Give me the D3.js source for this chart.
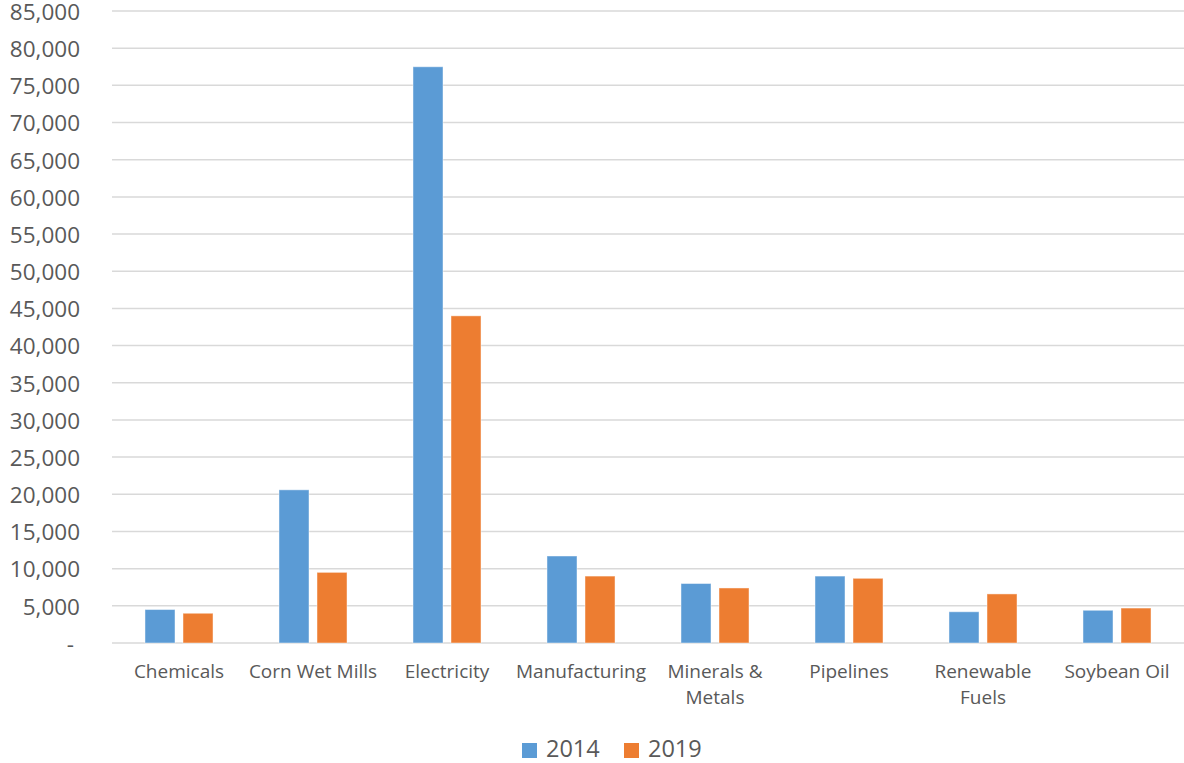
<!DOCTYPE html>
<html>
<head>
<meta charset="utf-8">
<script src="https://cdn.jsdelivr.net/npm/d3@7"></script>
<style>
  html, body { margin: 0; padding: 0; background: #fff; }
  svg { display: block; }
  text { font-family: "Open Sans", "Noto Sans", sans-serif; fill: #595959; }
</style>
</head>
<body>
<svg id="chart" width="1184" height="763"></svg>
<script>
const categories = ["Chemicals", "Corn Wet Mills", "Electricity", "Manufacturing", "Minerals & Metals", "Pipelines", "Renewable Fuels", "Soybean Oil"];
const categoryLines = [["Chemicals"], ["Corn Wet Mills"], ["Electricity"], ["Manufacturing"], ["Minerals &", "Metals"], ["Pipelines"], ["Renewable", "Fuels"], ["Soybean Oil"]];
const seriesNames = ["2014", "2019"];
const values2014 = [4500, 20600, 77500, 11700, 8000, 9000, 4200, 4400];
const values2019 = [4000, 9500, 44000, 9000, 7400, 8700, 6600, 4700];
const colors = ["#5B9BD5", "#ED7D31"];
const yTicks = [0, 5000, 10000, 15000, 20000, 25000, 30000, 35000, 40000, 45000, 50000, 55000, 60000, 65000, 70000, 75000, 80000, 85000];

(function () {
const svg = d3.select("#chart");
const plotLeft = 112, plotRight = 1184, plotTop = 11, plotBottom = 643;

const x = d3.scaleBand().domain(categories).range([plotLeft, plotRight]).padding(0);
const xInner = d3.scaleBand().domain(seriesNames).range([0, x.bandwidth()])
  .paddingInner(8 / 38).paddingOuter(0.868);
const y = d3.scaleLinear().domain([0, 85000]).range([plotBottom, plotTop]);

// gridlines
svg.append("g").selectAll("line").data(yTicks).join("line")
  .attr("x1", plotLeft).attr("x2", plotRight)
  .attr("y1", d => y(d)).attr("y2", d => y(d))
  .attr("stroke", "#d9d9d9").attr("stroke-width", 1.5);

// y axis labels
const fmt = d3.format(",");
const yAxis = d3.axisLeft(y).tickValues(yTicks).tickSize(0).tickPadding(0)
  .tickFormat(d => d === 0 ? "-" : fmt(d));
const yg = svg.append("g").attr("transform", "translate(80,0)").call(yAxis);
yg.select(".domain").remove();
yg.selectAll("text").attr("font-size", 22.5).attr("font-family", "'Open Sans', sans-serif").attr("fill", "#595959")
  .attr("dy", "0.37em");
yg.selectAll(".tick").filter(d => d === 0).select("text").attr("x", -6);

// bars
const data = categories.map((c, i) => ({ c, vals: [values2014[i], values2019[i]] }));
const groups = svg.append("g").selectAll("g").data(data).join("g")
  .attr("transform", d => `translate(${x(d.c)},0)`);
groups.selectAll("rect").data(d => d.vals.map((v, j) => ({ s: seriesNames[j], v, j })))
  .join("rect")
  .attr("x", d => xInner(d.s))
  .attr("width", xInner.bandwidth())
  .attr("y", d => y(d.v))
  .attr("height", d => y(0) - y(d.v))
  .attr("fill", d => colors[d.j])
  .attr("stroke", "#ffffff").attr("stroke-opacity", 0.45).attr("stroke-width", 1);

// category labels
const catG = svg.append("g").selectAll("text").data(categories).join("text")
  .attr("x", d => x(d) + x.bandwidth() / 2)
  .attr("y", 678)
  .attr("text-anchor", "middle")
  .attr("font-size", 19);
catG.each(function (d, i) {
  const t = d3.select(this);
  categoryLines[i].forEach((line, k) => {
    t.append("tspan").attr("x", x(d) + x.bandwidth() / 2).attr("dy", k === 0 ? 0 : 26).text(line);
  });
});

// legend
const legendItems = [{ name: seriesNames[0], x: 522, color: colors[0] }, { name: seriesNames[1], x: 624, color: colors[1] }];
const lg = svg.append("g").selectAll("g").data(legendItems).join("g")
  .attr("transform", d => `translate(${d.x},0)`);
lg.append("rect").attr("x", 0).attr("y", 743).attr("width", 15).attr("height", 15).attr("fill", d => d.color);
lg.append("text").attr("x", 24).attr("y", 757).attr("font-size", 23.5).text(d => d.name);
})();
</script>
</body>
</html>
